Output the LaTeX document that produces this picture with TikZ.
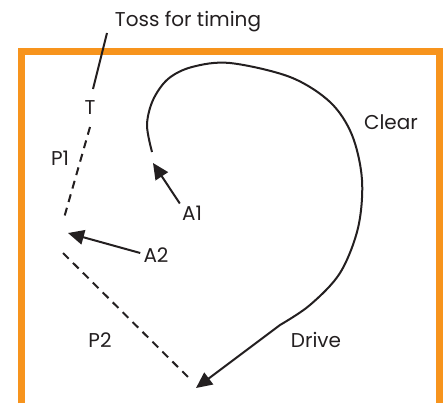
\documentclass[tikz,border=0pt]{standalone}
\usepackage{fontspec}
\setmainfont{Poppins}
\usetikzlibrary{arrows.meta,positioning}
\definecolor{frameorange}{HTML}{F7941D}
\definecolor{inkgray}{HTML}{231F20}
\tikzset{>={Triangle[length=12pt,width=11pt]}}
\tikzset{
  lbl/.style={inner sep=0pt,text=inkgray,font=\fontsize{15}{17}\selectfont},
  run/.style={draw=inkgray,line width=1.5pt},
  pass/.style={draw=inkgray,line width=1.5pt,dash pattern=on 6pt off 4.5pt}
}

\begin{document}
\begin{tikzpicture}[x=0.75pt,y=-0.75pt]
	\useasboundingbox (0,0) rectangle (445,403);
	% field
	\draw[frameorange,line width=5.25pt] (21.5,403) -- (21.5,51.5) -- (439,51.5) -- (439,403);
	% labels
	\node[lbl] (toss) at (188,22) {Toss for timing};
	\node[lbl] (T) at (90,108) {T};
	\node[lbl] (P1) at (60,158) {P1};
	\node[lbl] (P2) at (100,340) {P2};
	\node[lbl] (A1) at (192,213) {A1};
	\node[lbl] (A2) at (156,255) {A2};
	\node[lbl] (clear) at (391,122) {Clear};
	\node[lbl] (drive) at (316,340) {Drive};
	% points
	\coordinate (lead) at (107,33);
	\coordinate (tossend) at (93,89);
	\coordinate (p1top) at (90,127);
	\coordinate (p1end) at (64,218);
	\coordinate (p2top) at (63,253);
	\coordinate (p2end) at (188,377);
	\coordinate (a1tip) at (153,163);
	\coordinate (a2tip) at (68,233);
	\coordinate (rtip) at (196,388);
	% toss and passes
	\draw[run] (lead) -- (tossend);
	\draw[pass] (p1top) -- (p1end);
	\draw[pass] (p2top) -- (p2end);
	% runs
	\draw[run,->] (A1.north west) ++(-2,-2) -- (a1tip);
	\draw[run,->] (A2.west) ++(-3,-2) -- (a2tip);
	\draw[run,->] plot[smooth,tension=0.55] coordinates {(152,152) (147,125) (153,100)
		(168,79) (192,67) (230,63) (290,77) (330,102) (352,135) (362,180) (358,228)
		(340,273) (310,305) (280,325)} -- (rtip);
\end{tikzpicture}
\end{document}
